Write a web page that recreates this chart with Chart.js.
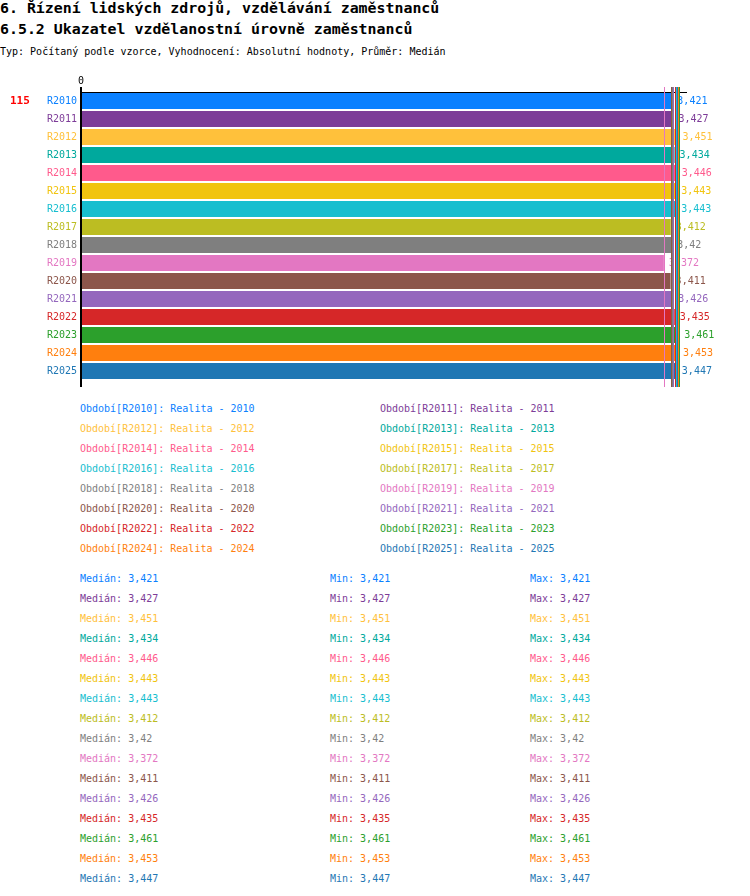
<!DOCTYPE html>
<html><head><meta charset="utf-8">
<script src="https://cdn.jsdelivr.net/npm/chart.js@4.4.1/dist/chart.umd.min.js"></script>
<style>
html,body{margin:0;padding:0;background:#fff;}
body{width:750px;height:896px;overflow:hidden;position:relative;font-family:"DejaVu Sans Mono",monospace;}
.t{position:absolute;white-space:pre;line-height:1;font-size:10px;}
#wrap{position:absolute;left:0;top:0;width:750px;height:400px;}
</style></head><body>
<div class="t" style="left:0;top:1px;font-size:14.9px;font-weight:bold">6. Řízení lidských zdrojů, vzdělávání zaměstnanců</div>
<div class="t" style="left:0;top:22.4px;font-size:14.9px;font-weight:bold">6.5.2 Ukazatel vzdělanostní úrovně zaměstnanců</div>
<div class="t" style="left:0;top:46.5px;">Typ: Počítaný podle vzorce, Vyhodnocení: Absolutní hodnoty, Průměr: Medián</div>
<div id="wrap"><canvas id="c" width="750" height="400"></canvas></div>
<div id="legend"></div>
<div id="stats"></div>
<script>
const categories = ['R2010','R2011','R2012','R2013','R2014','R2015','R2016','R2017','R2018','R2019','R2020','R2021','R2022','R2023','R2024','R2025'];
const values = [3.421,3.427,3.451,3.434,3.446,3.443,3.443,3.412,3.42,3.372,3.411,3.426,3.435,3.461,3.453,3.447];
const colors = ['#0A80FF','#7D3C98','#FFC13B','#00A99D','#FF5A8C','#F1C40F','#17BECF','#BCBD22','#7F7F7F','#E377C2','#8C564B','#9467BD','#D62728','#2CA02C','#FF7F0E','#1F77B4'];
const legendNames = ['Realita - 2010','Realita - 2011','Realita - 2012','Realita - 2013','Realita - 2014','Realita - 2015','Realita - 2016','Realita - 2017','Realita - 2018','Realita - 2019','Realita - 2020','Realita - 2021','Realita - 2022','Realita - 2023','Realita - 2024','Realita - 2025'];
const xTicks = [0];
const countLabel = '115';

const FONT = '"DejaVu Sans Mono", monospace';
const fmt = v => String(v).replace('.', ',');

const lg = document.getElementById('legend');
categories.forEach((c, i) => {
  const d = document.createElement('div');
  d.className = 't';
  d.style.left = (i % 2 ? 380 : 80) + 'px';
  d.style.top = (403.5 + Math.floor(i / 2) * 20) + 'px';
  d.style.color = colors[i];
  d.textContent = 'Období[' + c + ']: ' + legendNames[i];
  lg.appendChild(d);
});
const st = document.getElementById('stats');
values.forEach((v, i) => {
  [['Medián: ', 80], ['Min: ', 330], ['Max: ', 530]].forEach(([lab, x]) => {
    const d = document.createElement('div');
    d.className = 't';
    d.style.left = x + 'px';
    d.style.top = (574 + i * 20) + 'px';
    d.style.color = colors[i];
    d.textContent = lab + fmt(v);
    st.appendChild(d);
  });
});

const overlay = {
  id: 'overlay',
  afterDatasetsDraw(chart) {
    const {ctx, chartArea, scales} = chart;
    const xs = scales.x, ys = scales.y;
    ctx.save();
    ctx.font = '10px ' + FONT;
    ctx.textBaseline = 'middle';
    ctx.textAlign = 'left';
    values.forEach((v, i) => {
      ctx.fillStyle = colors[i];
      ctx.fillText(fmt(v), xs.getPixelForValue(v) + 5, ys.getPixelForValue(i));
    });
    ctx.lineWidth = 1;
    values.forEach((v, i) => {
      const x = Math.round(xs.getPixelForValue(v)) + 0.5;
      ctx.strokeStyle = colors[i];
      ctx.beginPath();
      ctx.moveTo(x, chartArea.top - 5);
      ctx.lineTo(x, chartArea.bottom + 7);
      ctx.stroke();
    });
    ctx.strokeStyle = '#000';
    ctx.lineWidth = 2;
    ctx.beginPath();
    ctx.moveTo(chartArea.left, chartArea.top - 5);
    ctx.lineTo(chartArea.left, chartArea.bottom + 7);
    ctx.stroke();
    ctx.font = 'bold 11px ' + FONT;
    ctx.fillStyle = '#FF0000';
    ctx.fillText(countLabel, 10, ys.getPixelForValue(0));
    ctx.restore();
  }
};

new Chart(document.getElementById('c'), {
  type: 'bar',
  data: {
    labels: categories,
    datasets: [{
      data: values,
      backgroundColor: colors,
      borderWidth: 0,
      barPercentage: 0.89,
      categoryPercentage: 1
    }]
  },
  options: {
    indexAxis: 'y',
    responsive: false,
    animation: false,
    layout: {padding: {left: 0, top: 0, right: 64, bottom: 20}},
    plugins: {legend: {display: false}, tooltip: {enabled: false}},
    scales: {
      x: {
        type: 'linear', position: 'top', min: 0, max: 3.5,
        grid: {display: false, drawTicks: true, tickLength: 5},
        border: {display: true, color: '#000', width: 1},
        ticks: {color: '#000', padding: 0, font: {family: FONT, size: 10}},
        afterBuildTicks: s => { s.ticks = xTicks.map(v => ({value: v})); },
        afterFit: s => { s.height = 92; }
      },
      y: {
        type: 'category',
        grid: {display: false, drawTicks: false},
        border: {display: false},
        ticks: {color: c => colors[c.index], padding: 4, font: {family: FONT, size: 10}, autoSkip: false},
        afterFit: s => { s.width = 81; }
      }
    }
  },
  plugins: [overlay]
});
</script>
</body></html>
